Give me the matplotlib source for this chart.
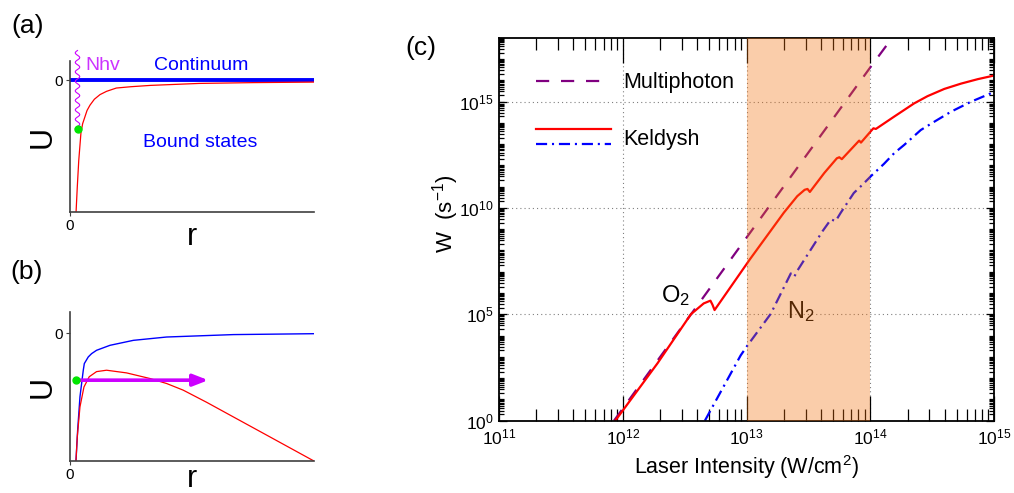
"""Potential-energy sketches (a, b) and ionization rate vs laser intensity (c)."""

import matplotlib

matplotlib.use("Agg")
import matplotlib.pyplot as plt  # noqa: E402
import numpy as np  # noqa: E402
from matplotlib.legend_handler import HandlerBase  # noqa: E402
from matplotlib.lines import Line2D  # noqa: E402
from matplotlib.ticker import FixedLocator, LogFormatterMathtext, LogLocator, NullFormatter  # noqa: E402

plt.rcParams["font.family"] = ["Liberation Sans", "DejaVu Sans"]
plt.rcParams["mathtext.fontset"] = "custom"
plt.rcParams["mathtext.rm"] = "Liberation Sans"
plt.rcParams["mathtext.it"] = "Liberation Sans:italic"
plt.rcParams["mathtext.default"] = "regular"
plt.rcParams["lines.scale_dashes"] = False

RED = "#ff0000"
BLUE = "#0000ff"
PURPLE = "#800080"
MAGENTA = "#cc00ff"
GREEN = "#00e600"
SPINE = "#404040"

# ---- panel (a): Coulomb well, field-free
a_r = [0.25, 0.30, 0.36, 0.45, 0.52, 0.61, 0.70, 0.82, 1.0, 1.23, 1.5, 1.9, 2.5, 3.3, 5.3, 7.5, 10]
a_u = [-1.0, -0.81, -0.61, -0.40, -0.33, -0.28, -0.23, -0.19, -0.145, -0.11, -0.085, -0.06,
       -0.05, -0.04, -0.025, -0.019, -0.015]
continuum_r = [0, 10]
continuum_u = [0, 0]
a_state = (0.34, -0.37)          # bound electron (green dot)
a_photon_top = 0.227             # wavy photon line starts above the frame

# ---- panel (b): Coulomb well + laser field
b_r = [0.246, 0.30, 0.41, 0.574, 0.79, 1.09, 1.50, 2.32, 3.28, 3.96, 4.64, 5.6, 6.69, 8.06, 10]
b_u = [-1.0, -0.81, -0.576, -0.42, -0.34, -0.30, -0.289, -0.31, -0.354, -0.393, -0.445, -0.540,
       -0.654, -0.797, -1.0]
b_free_r = [0.246, 0.315, 0.41, 0.546, 0.588, 0.75, 0.888, 1.09, 1.64, 2.6, 3.96, 6.7, 10]
b_free_u = [-1.0, -0.758, -0.497, -0.289, -0.237, -0.185, -0.159, -0.133, -0.094, -0.055, -0.029,
            -0.010, -0.003]
b_state = (0.246, -0.367)
b_tunnel = (0.41, 5.67)          # arrow start / end radius

# ---- panel (c): ionization rates
mp_int = [8.5e11, 1.0e13, 1.0e14, 1.6e14]
mp_rate = [1.0, 4.0e8, 4.0e16, 1.6e18]

o2_int = [8.71e11, 1.91e12, 3.55e12, 4.51e12, 5.11e12, 5.31e12, 5.52e12, 1.07e13, 2.0e13, 2.57e13,
          2.95e13, 3.11e13, 3.25e13, 4.25e13, 5.37e13, 5.62e13, 5.89e13, 8.13e13, 8.41e13, 1.02e14,
          1.06e14, 1.11e14, 1.56e14, 2.26e14, 2.90e14, 3.96e14, 5.41e14, 7.38e14, 1.0e15]
o2_rate = [1.0, 5.0e2, 1.0e5, 3.24e5, 4.37e5, 2.82e5, 1.58e5, 3.98e7, 5.89e9, 3.55e10,
           7.08e10, 7.76e10, 5.62e10, 4.37e11, 2.14e12, 2.40e12, 1.95e12, 1.45e13, 1.17e13, 4.27e13,
           5.5e13, 5.13e13, 1.95e14, 8.13e14, 1.78e15, 3.89e15, 6.92e15, 1.12e16, 1.66e16]

n2_int = [4.61e12, 8.97e12, 1.02e13, 1.57e13, 2.28e13, 2.43e13, 2.57e13, 4.12e13, 4.81e13, 5.25e13,
          5.77e13, 7.36e13, 8.65e13, 1.02e14, 1.11e14, 1.29e14, 1.56e14, 1.88e14, 2.56e14, 3.29e14,
          4.49e14, 6.52e14, 8.32e14, 1.0e15]
n2_rate = [1.0, 1.17e3, 3.47e3, 1.05e5, 8.3e6, 5.75e6, 1.1e7, 8.13e8, 2.88e9, 2.4e9,
           5.89e9, 5.0e10, 1.23e11, 3.24e11, 5.13e11, 1.17e12, 3.72e12, 9.12e12, 4.57e13, 1.12e14,
           3.31e14, 9.77e14, 1.78e15, 2.82e15]

shade = (1e13, 1e14)


class StackedLines(HandlerBase):
    """Legend handler drawing a tuple of lines one above the other."""

    def create_artists(self, legend, orig_handle, xdescent, ydescent, width, height, fontsize, trans):
        out = []
        mid = (height - ydescent) / 2
        for h, off in zip(orig_handle, [0.36, -0.34]):
            ln = Line2D([-xdescent, width - xdescent], [mid + off * fontsize] * 2)
            ln.update_from(h)
            ln.set_transform(trans)
            out.append(ln)
        return out


def sketch_axes(ax, ylim, xpad):
    ax.set_xlim(0, 10)
    ax.set_ylim(*ylim)
    for side in ("top", "right"):
        ax.spines[side].set_visible(False)
    for side in ("left", "bottom"):
        ax.spines[side].set_color(SPINE)
        ax.spines[side].set_linewidth(1.2)
    ax.set_xticks([0])
    ax.set_yticks([0])
    ax.tick_params(length=3, color=SPINE, labelsize=11, pad=2)
    ax.set_xlabel("r", fontsize=22, labelpad=xpad)
    ax.set_ylabel("U", fontsize=22, labelpad=-2)


fig = plt.figure(figsize=(10.14, 4.93), dpi=100)

# (a)
ax_a = fig.add_axes([0.069, 0.570, 0.2406, 0.306])
sketch_axes(ax_a, (-1.0, 0.144), -8)
ax_a.plot(continuum_r, continuum_u, color=BLUE, lw=2.8, solid_capstyle="butt", clip_on=False)
ax_a.plot(a_r, a_u, color=RED, lw=0.9)
photon = ax_a.plot([0.30, 0.30], [a_photon_top, a_state[1]], color=MAGENTA, lw=0.8, clip_on=False)[0]
photon.set_sketch_params(scale=2.3, length=9.5, randomness=1.0)
ax_a.plot(*a_state, "o", color=GREEN, ms=5, zorder=5)
ax_a.text(0.62, 0.114, "Nhv", color="#cc33ff", fontsize=14, va="center")
ax_a.text(5.39, 0.114, "Continuum", color=BLUE, fontsize=14, ha="center", va="center")
ax_a.text(5.35, -0.475, "Bound states", color=BLUE, fontsize=14, ha="center", va="center")

# (b)
ax_b = fig.add_axes([0.069, 0.0649, 0.2406, 0.302])
sketch_axes(ax_b, (-1.0, 0.166), -13)
ax_b.plot(b_free_r, b_free_u, color=BLUE, lw=1.0)
ax_b.plot(b_r, b_u, color=RED, lw=0.9)
ax_b.annotate("", xy=(b_tunnel[1], b_state[1]), xytext=(b_tunnel[0], b_state[1]),
              arrowprops=dict(arrowstyle="-|>,head_length=0.9,head_width=0.35", lw=2.6,
                              color=MAGENTA, shrinkA=0, shrinkB=0))
ax_b.plot(*b_state, "o", color=GREEN, ms=5, zorder=5)

# (c)
ax = fig.add_axes([0.4921, 0.1467, 0.4882, 0.7769])
ax.set_xscale("log")
ax.set_yscale("log")
ax.set_xlim(1e11, 1e15)
ax.set_ylim(1.0, 1e18)
mp_line = ax.plot(mp_int, mp_rate, color=PURPLE, lw=1.6, dashes=(9.5, 8.5))[0]
o2_line = ax.plot(o2_int, o2_rate, color=RED, lw=1.6)[0]
n2_line = ax.plot(n2_int, n2_rate, color=BLUE, lw=1.6, dashes=(8, 3.5, 1.5, 3.5))[0]
ax.text(2.04e12, 3.6e5, "O$_2$", fontsize=17, ha="left", va="baseline")
ax.text(2.14e13, 6.8e4, "N$_2$", fontsize=17, ha="left", va="baseline")
ax.axvspan(*shade, facecolor="#f1700c", alpha=0.35, lw=0, zorder=5)

ax.xaxis.set_major_locator(LogLocator(base=10, numticks=10))
ax.xaxis.set_minor_locator(LogLocator(base=10, subs=np.arange(2, 10), numticks=10))
ax.xaxis.set_major_formatter(LogFormatterMathtext())
ax.xaxis.set_minor_formatter(NullFormatter())
ax.yaxis.set_major_locator(FixedLocator([1.0, 1e5, 1e10, 1e15]))
ax.yaxis.set_minor_locator(LogLocator(base=10, subs=np.arange(1, 10), numticks=100))
ax.yaxis.set_major_formatter(LogFormatterMathtext())
ax.yaxis.set_minor_formatter(NullFormatter())
ax.tick_params(which="both", direction="in", top=True, right=True, labelsize=12.5, width=0.9)
ax.tick_params(axis="x", which="major", length=18, pad=5)
ax.tick_params(axis="x", which="minor", length=8.5)
ax.tick_params(axis="y", which="major", length=5.5, pad=4)
ax.tick_params(axis="y", which="minor", length=3.5)
for sp in ax.spines.values():
    sp.set_linewidth(1.3)
ax.grid(True, which="major", color="#808080", lw=0.8, ls=(0, (0.8, 2.2)))
ax.set_xlabel("Laser Intensity (W/cm$^2$)", fontsize=15.5, labelpad=4)
ax.set_ylabel("W  (s$^{-1}$)", fontsize=16)
ax.yaxis.set_label_coords(-0.077, 0.54)

ax.legend(handles=[mp_line, (o2_line, n2_line)], labels=["Multiphoton", "Keldysh"],
          handler_map={tuple: StackedLines()}, loc="upper left", bbox_to_anchor=(0.075, 0.91),
          frameon=False, fontsize=15.5, handlelength=3.5, handletextpad=0.55,
          labelspacing=1.65, borderpad=0, borderaxespad=0)

fig.text(11 / 1014, 1 - 14 / 493, "(a)", fontsize=19, va="top")
fig.text(10 / 1014, 1 - 260 / 493, "(b)", fontsize=19, va="top")
fig.text(405 / 1014, 1 - 36 / 493, "(c)", fontsize=19, va="top")

fig.savefig("out.png", dpi=100)
